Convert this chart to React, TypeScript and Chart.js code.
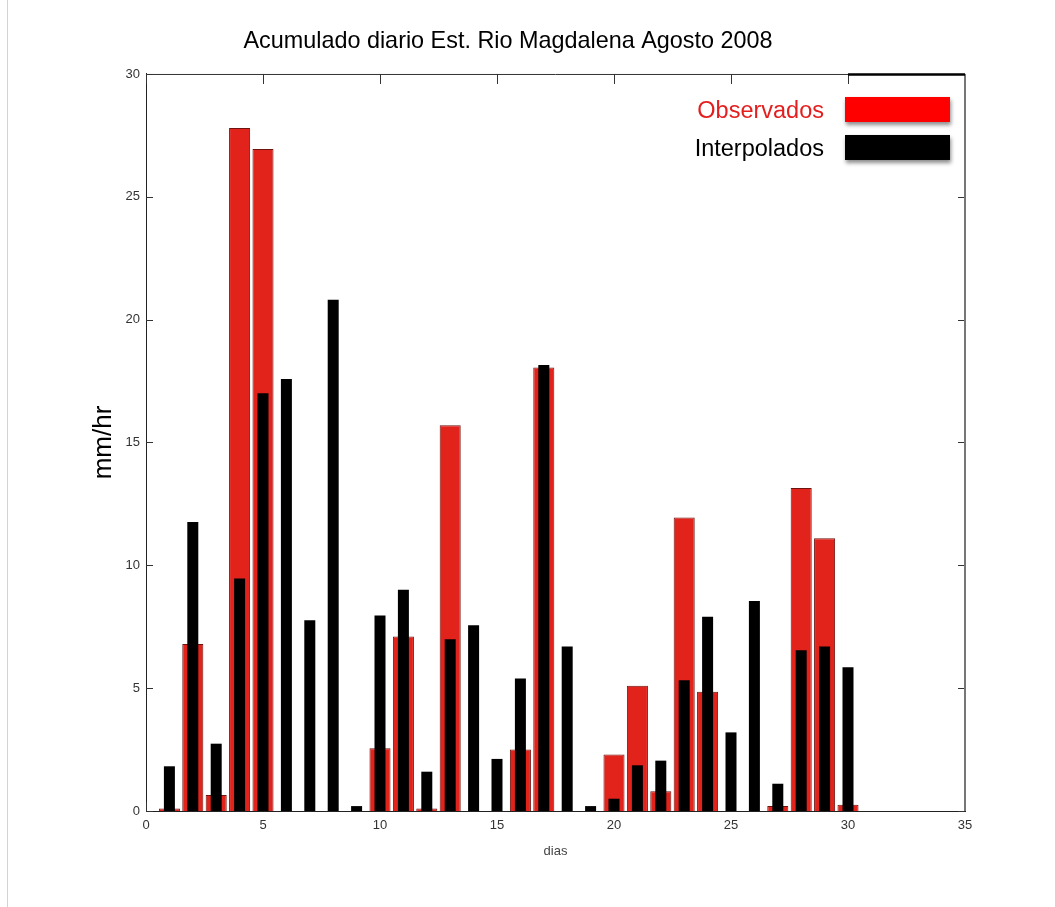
import { useEffect, useRef } from "react";
import { Chart, registerables } from "chart.js";

Chart.register(...registerables);

const SANS = '"Liberation Sans", Arial, Helvetica, sans-serif';

const TITLE = "Acumulado diario Est. Rio Magdalena Agosto 2008";
const Y_LABEL = "mm/hr";
const X_LABEL = "dias";

// Day of the month (August 2008)
const days = [
  1, 2, 3, 4, 5, 6, 7, 8, 9, 10, 11, 12, 13, 14, 15,
  16, 17, 18, 19, 20, 21, 22, 23, 24, 25, 26, 27, 28, 29, 30,
];

// Observed daily accumulation (mm/hr); null = no observation
const observados: (number | null)[] = [
  0.1, 6.8, 0.65, 27.8, 26.95, null, null, null, null, 2.55,
  7.1, 0.1, 15.7, null, null, 2.5, 18.05, null, null, 2.3,
  5.1, 0.8, 11.95, 4.85, null, null, 0.2, 13.15, 11.1, 0.25,
];

// Interpolated daily accumulation (mm/hr)
const interpolados: (number | null)[] = [
  1.82, 11.76, 2.74, 9.46, 17.0, 17.58, 7.76, 20.81, 0.2, 7.96,
  9.01, 1.6, 6.99, 7.56, 2.12, 5.39, 18.15, 6.7, 0.2, 0.5,
  1.86, 2.05, 5.32, 7.91, 3.2, 8.55, 1.11, 6.54, 6.7, 5.85,
];

const seriesNames = ["Observados", "Interpolados"];
const barColors = ["#e2231c", "#000000"];
const barEdges = ["#6e130e", "#000000"];
const legendSwatches = ["#ff0000", "#000000"];
const legendTextColors = ["#e41e1e", "#000000"];

const xRange = [0, 35];
const yRange = [0, 30];
const tickStep = 5;

// Inward tick marks on all four sides, drawn beneath the bars
const inwardTicks = {
  id: "inwardTicks",
  beforeDatasetsDraw(chart: any) {
    const { ctx, chartArea: a, scales } = chart;
    const x = scales.x;
    const y = scales.y;
    ctx.save();
    ctx.strokeStyle = "#333";
    ctx.lineWidth = 1;
    ctx.beginPath();
    for (const t of x.ticks) {
      const px = Math.round(x.getPixelForValue(t.value)) + 0.5;
      ctx.moveTo(px, a.top);
      ctx.lineTo(px, a.top + 10);
      ctx.moveTo(px, a.bottom);
      ctx.lineTo(px, a.bottom - 9);
    }
    for (const t of y.ticks) {
      const py = Math.round(y.getPixelForValue(t.value)) + 0.5;
      ctx.moveTo(a.left, py);
      ctx.lineTo(a.left + 7, py);
      ctx.moveTo(a.right, py);
      ctx.lineTo(a.right - 7, py);
    }
    ctx.stroke();
    ctx.restore();
  },
};

// Box frame (top and right edges) plus the legend in the upper-right corner
const frameAndLegend = {
  id: "frameAndLegend",
  afterDatasetsDraw(chart: any) {
    const { ctx, chartArea: a } = chart;
    ctx.save();
    ctx.strokeStyle = "#333";
    ctx.lineWidth = 1;
    ctx.beginPath();
    ctx.moveTo(a.left, a.top + 0.5);
    ctx.lineTo(a.right, a.top + 0.5);
    ctx.stroke();
    ctx.strokeStyle = "#777";
    ctx.lineWidth = 2;
    ctx.beginPath();
    ctx.moveTo(a.right, a.top);
    ctx.lineTo(a.right, a.bottom);
    ctx.stroke();
    // legend box top edge
    ctx.strokeStyle = "#000";
    ctx.lineWidth = 2.5;
    ctx.beginPath();
    ctx.moveTo(a.right - 117, a.top + 0.5);
    ctx.lineTo(a.right, a.top + 0.5);
    ctx.stroke();

    const swLeft = a.right - 120;
    const swW = 105;
    const swH = 25;
    const rowTops = [a.top + 23, a.top + 61];
    chart.data.datasets.forEach((ds: any, i: number) => {
      const top = rowTops[i];
      ctx.save();
      ctx.shadowColor = "rgba(0,0,0,0.45)";
      ctx.shadowBlur = 4;
      ctx.shadowOffsetX = 1;
      ctx.shadowOffsetY = 3;
      ctx.fillStyle = legendSwatches[i];
      ctx.fillRect(swLeft, top, swW, swH);
      ctx.restore();
      ctx.fillStyle = legendTextColors[i];
      ctx.font = `23.5px ${SANS}`;
      ctx.textAlign = "right";
      ctx.textBaseline = "alphabetic";
      ctx.fillText(ds.label, swLeft - 21, top + swH / 2 + 8.5);
    });
    ctx.restore();
  },
};

export default function App() {
  const canvasRef = useRef<HTMLCanvasElement | null>(null);

  useEffect(() => {
    const canvas = canvasRef.current;
    if (!canvas) return;
    const chart = new Chart(canvas, {
      type: "bar",
      data: {
        datasets: [
          {
            label: seriesNames[0],
            data: days.map((d, i) => ({ x: d, y: observados[i] })) as any,
            backgroundColor: barColors[0],
            borderColor: barEdges[0],
            borderWidth: 1,
            barPercentage: 0.9,
            categoryPercentage: 1,
            grouped: false,
            order: 1,
          },
          {
            label: seriesNames[1],
            data: days.map((d, i) => ({ x: d, y: interpolados[i] })) as any,
            backgroundColor: barColors[1],
            borderColor: barEdges[1],
            borderWidth: 0,
            barPercentage: 0.47,
            categoryPercentage: 1,
            grouped: false,
            order: 0,
          },
        ],
      },
      options: {
        responsive: false,
        animation: false,
        devicePixelRatio: 1,
        layout: { padding: { left: 51, right: 90, top: 0, bottom: 0 } },
        plugins: {
          legend: { display: false },
          tooltip: { enabled: false },
          title: {
            display: true,
            text: TITLE,
            color: "#000",
            font: { family: SANS, size: 23.4, weight: "normal" },
            padding: { top: 28, bottom: 17.9 },
          },
        },
        scales: {
          x: {
            type: "linear",
            min: xRange[0],
            max: xRange[1],
            offset: false,
            ticks: {
              stepSize: tickStep,
              color: "#333",
              font: { family: SANS, size: 13 },
              padding: 7,
            },
            grid: { display: false, drawTicks: false, offset: false },
            border: { display: true, color: "#222", width: 1 },
            title: {
              display: true,
              text: X_LABEL,
              color: "#444",
              font: { family: SANS, size: 13 },
              padding: { top: 0, bottom: 48.2 },
            },
            afterFit: (s: any) => {
              s.height = 96;
            },
          },
          y: {
            type: "linear",
            min: yRange[0],
            max: yRange[1],
            ticks: {
              stepSize: tickStep,
              color: "#333",
              font: { family: SANS, size: 13 },
              padding: 6,
            },
            grid: { display: false, drawTicks: false },
            border: { display: true, color: "#222", width: 1 },
            title: {
              display: true,
              text: Y_LABEL,
              color: "#000",
              font: { family: SANS, size: 26 },
              padding: { top: 37, bottom: 0 },
            },
            afterFit: (s: any) => {
              s.width = 95;
            },
          },
        },
      } as any,
      plugins: [inwardTicks, frameAndLegend],
    });
    return () => chart.destroy();
  }, []);

  return (
    <div style={{ position: "absolute", left: 0, top: 0, width: 1055, height: 907, background: "#fff", overflow: "hidden" }}>
      <canvas ref={canvasRef} width={1055} height={907} style={{ display: "block" }} />
      <div style={{ position: "absolute", left: 7, top: 0, width: 1, height: 907, background: "#d4d4d4" }} />
    </div>
  );
}
